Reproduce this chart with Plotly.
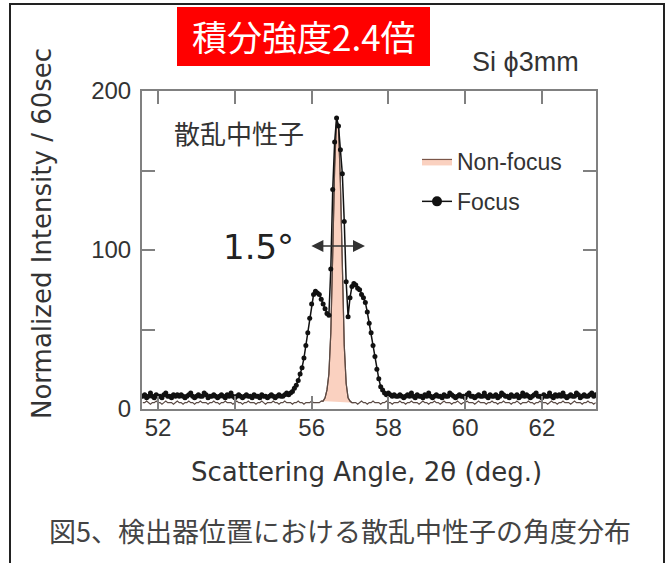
import numpy as np
import plotly.graph_objects as go

# ---- data ----
scan_start, scan_step, n_points = 51.6, 0.05, 237
angle = np.round(scan_start + scan_step * np.arange(n_points), 2)

focus_left = [8, 9, 7, 8, 10, 8, 7, 9, 8, 8, 7, 9, 10, 8, 8, 7, 9, 8, 9, 8,
              9, 8, 7, 8, 9, 10, 8, 7, 8, 9, 8, 8, 10, 9, 7, 8, 8, 9, 8, 7,
              8, 9, 8, 7, 9, 8, 10, 8, 7, 8, 9, 8, 7, 8, 9, 8, 8, 7, 9, 8,
              8, 7, 9, 8, 8, 7, 8, 9, 8, 7, 8, 9, 8, 8, 9, 10]
focus_peak = [9, 10, 11, 13, 15, 18, 22, 26, 32, 40,
              48, 57, 66, 72, 74, 73, 72, 69, 66, 63,
              60, 59, 88, 138, 168, 183, 178, 163, 148, 118,
              80, 58, 70, 77, 79, 78, 76, 75, 72, 70,
              67, 61, 54, 48, 40, 33, 25, 19, 14, 12,
              10, 9, 10, 9, 8, 9, 8]
focus_right = [8, 9, 8, 7, 8, 9, 8, 10, 8, 7, 9, 8, 8, 7, 9, 8, 10, 8, 7, 8,
               9, 8, 8, 7, 9, 8, 8, 10, 9, 8, 7, 8, 9, 8, 8, 7, 9, 10, 8, 8,
               7, 8, 9, 8, 8, 10, 8, 7, 9, 8, 8, 9, 7, 8, 10, 9, 8, 8, 7, 9,
               8, 8, 9, 7, 8, 10, 8, 9, 8, 7, 8, 9, 10, 8, 8, 7, 9, 8, 8, 10,
               8, 7, 9, 8, 9, 8, 10, 8, 7, 8, 9, 8, 8, 10, 9, 7, 8, 9, 8, 8,
               9, 10, 8, 9]
focus = focus_left + focus_peak + focus_right

nonfocus_left = [4, 4, 5, 4, 3, 4, 4, 5, 4, 4, 3, 4, 5, 4, 4, 4, 3, 4, 5, 4,
                 4, 3, 4, 4, 5, 4, 4, 3, 4, 4, 5, 4, 4, 4, 3, 4, 4, 5, 4, 4,
                 3, 4, 4, 5, 4, 4, 4, 3, 4, 5, 4, 4, 3, 4, 4, 5, 4, 4, 4, 3,
                 4, 4, 5, 4, 3, 4, 4, 4, 5, 4, 4, 3, 4, 4, 5, 4]
nonfocus_peak = [4, 4, 3, 4, 4, 5, 4, 4, 3, 4, 4, 4, 5, 4, 4, 4, 4, 5,
                 5, 7, 12, 22, 48, 98, 152, 182, 178, 142, 88, 40, 16, 7, 5,
                 4, 4, 4, 3, 4, 5, 4, 4, 3, 4, 4, 5, 4, 4, 4, 3, 4, 4, 5, 4, 4, 3, 4, 4]
nonfocus_right = [4, 5, 4, 4, 3, 4, 4, 5, 4, 4, 4, 3, 4, 5, 4, 4, 3, 4, 4, 5,
                  4, 4, 3, 4, 5, 4, 4, 4, 3, 4, 4, 5, 4, 3, 4, 4, 5, 4, 4, 4,
                  3, 4, 5, 4, 4, 4, 3, 4, 4, 5, 4, 4, 3, 4, 4, 5, 4, 4, 4, 3,
                  4, 4, 5, 4, 3, 4, 4, 4, 5, 4, 4, 3, 4, 4, 5, 4, 4, 4, 3, 4,
                  5, 4, 4, 3, 4, 4, 5, 4, 4, 4, 3, 4, 5, 4, 4, 4, 3, 4, 4, 5,
                  4, 4, 3, 4]
nonfocus = nonfocus_left + nonfocus_peak + nonfocus_right

# index range of the non-focus peak (56.25 .. 57.05) that is shaded
peak_lo, peak_hi = 93, 110

x_ticks = [52, 54, 56, 58, 60, 62]
y_ticks = [0, 50, 100, 150, 200]
y_ticktext = ["0", "", "100", "", "200"]

LAT = "Liberation Sans, Arial, sans-serif"
WIDE = "DejaVu Sans, sans-serif"
JP = "Noto Sans CJK JP, sans-serif"
TXT = "#333333"
AX = "#808080"
BROWN = "#7a5548"

fig = go.Figure()
# shaded non-focus peak (legend entry)
fig.add_trace(go.Scatter(
    x=angle[peak_lo:peak_hi + 1], y=nonfocus[peak_lo:peak_hi + 1],
    mode="lines", name="Non-focus",
    line=dict(color=BROWN, width=1.2),
    fill="toself", fillcolor="rgba(246,178,150,0.6)",
    legendgroup="a",
))
# full non-focus line
fig.add_trace(go.Scatter(
    x=angle, y=nonfocus, mode="lines", name="Non-focus",
    line=dict(color="#5a4a44", width=1.2), showlegend=False,
))
fig.add_trace(go.Scatter(
    x=angle, y=focus, mode="lines+markers", name="Focus",
    line=dict(color="#111111", width=1.5),
    marker=dict(color="#111111", size=5),
    showlegend=False,
))
# legend entry for Focus with a larger marker
fig.add_trace(go.Scatter(
    x=[None], y=[None], mode="lines+markers", name="Focus",
    line=dict(color="#111111", width=1.5),
    marker=dict(color="#111111", size=10),
    legendgroup="b",
))

PL, PR, PT, PB = 142, 596, 91, 409
def px(x):
    return (x - PL) / (PR - PL)
def py(y):
    return (PB - y) / (PB - PT)

fig.update_layout(
    width=669, height=563,
    margin=dict(l=PL, r=669 - PR, t=PT, b=563 - PB),
    paper_bgcolor="white", plot_bgcolor="white",
    font=dict(family=LAT, color=TXT),
    showlegend=True,
    legend=dict(x=px(417), y=py(140), xanchor="left", yanchor="top",
                bgcolor="rgba(0,0,0,0)", font=dict(size=23, color=TXT, family=LAT),
                tracegroupgap=7),
    xaxis=dict(range=[51.58, 63.41], tickvals=x_ticks, ticks="inside",
               ticklen=13, tickwidth=2, tickcolor=AX, showline=True,
               linecolor=AX, linewidth=2, mirror="ticks", showgrid=False,
               zeroline=False, tickfont=dict(size=24, color=TXT),
               ticklabelstandoff=-4),
    yaxis=dict(range=[0, 200], tickvals=y_ticks, ticktext=y_ticktext,
               ticks="inside", ticklen=13, tickwidth=2, tickcolor=AX,
               showline=True, linecolor=AX, linewidth=2, mirror="ticks",
               showgrid=False, zeroline=False,
               tickfont=dict(size=24, color=TXT), ticklabelstandoff=4),
)

shapes = [
    # outer frame
    dict(type="rect", xref="paper", yref="paper", x0=px(10), x1=px(664),
         y0=py(640), y1=py(4), line=dict(color="#222222", width=2)),
    # red box
    dict(type="rect", xref="paper", yref="paper", x0=px(177), x1=px(430),
         y0=py(66), y1=py(7), line=dict(width=0), fillcolor="#ff0000"),
]
fig.update_layout(shapes=shapes)

def label(text, x, y, size, family=LAT, color=TXT, **kw):
    return dict(text=text, xref="paper", yref="paper", x=px(x), y=py(y),
                xanchor="center", yanchor="middle", showarrow=False,
                font=dict(family=family, size=size, color=color), **kw)

annotations = [
    label("積分強度2.4倍", 303.5, 36, 35, JP, "white"),
    label("Si ϕ3mm", 525, 62, 27),
    label("散乱中性子", 239, 132, 26, JP),
    label("1.5°", 258, 247, 34, WIDE, "#222222"),
    dict(text="", x=57.39, y=102.5, ax=55.955, ay=102.5, xref="x", yref="y",
         axref="x", ayref="y", showarrow=True, arrowhead=2, startarrowhead=2,
         arrowside="end+start", arrowsize=1.6, startarrowsize=1.6,
         arrowwidth=1.5, arrowcolor="#333333", standoff=0, startstandoff=0),
    label("Normalized Intensity / 60sec", 42, 234, 26, WIDE, textangle=-90),
    label("Scattering Angle, 2θ (deg.)", 366.5, 472, 26, WIDE),
    label("図5、検出器位置における散乱中性子の角度分布", 340, 530, 27, JP, "#444444"),
]
fig.update_layout(annotations=annotations)

fig.write_html("out.html", config={"displayModeBar": False},
               post_script="document.body.style.margin='0';")
